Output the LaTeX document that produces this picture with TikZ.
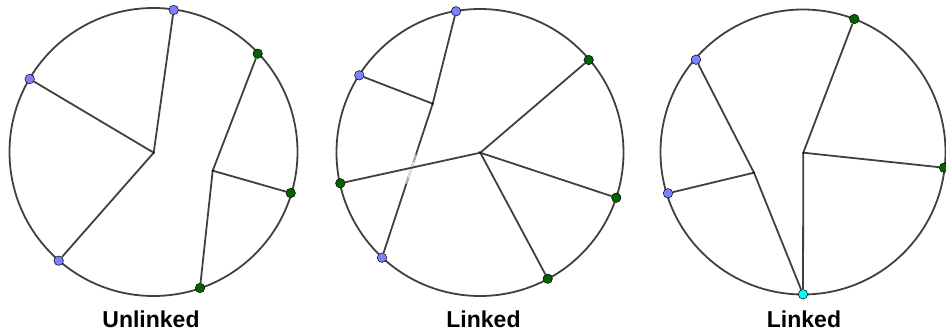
\documentclass[tikz,border=0pt]{standalone}
\usepackage{fontspec}
\newfontfamily\labelfont{Liberation Sans}
\usetikzlibrary{calc}
\definecolor{ptblue}{HTML}{8080FF}
\definecolor{ptgreen}{HTML}{006400}
\definecolor{ptcyan}{HTML}{00FFFF}
\definecolor{edge}{HTML}{404040}

\begin{document}
\begin{tikzpicture}[x=1pt, y=-1pt, line width=1.8pt,
  bdot/.style={circle, draw=black, line width=0.5pt, fill=ptblue, inner sep=0pt, minimum size=9.5pt},
  gdot/.style={bdot, fill=ptgreen},
  cdot/.style={bdot, fill=ptcyan},
  caption/.style={anchor=base, font=\labelfont\bfseries\fontsize{23}{27}\selectfont}]
  \useasboundingbox (0,0) rectangle (946,334);
  % 三个圆
  \draw[edge] (153.5,152) circle (144);
  \draw[edge] (480,152.5) circle (143.5);
  \draw[edge] (803,152) circle (142.5);

  % 第一个圆：Unlinked
  \coordinate (J1) at (153.7,152.7);
  \coordinate (K1) at (212.7,170.7);
  \node[bdot] (A1) at (173.7,10) {};
  \node[bdot] (B1) at (29.7,79) {};
  \node[bdot] (C1) at (58.7,260.7) {};
  \node[gdot] (D1) at (257.7,53.7) {};
  \node[gdot] (E1) at (290.7,193) {};
  \node[gdot] (F1) at (200,288) {};
  \draw[edge] (A1) -- (J1) -- (B1);
  \draw[edge] (J1) -- (C1);
  \draw[edge] (D1) -- (K1) -- (E1);
  \draw[edge] (K1) -- (F1);
  \fill (J1) circle (1pt); \fill (K1) circle (1pt);
  \node[caption] (L1) at (151,327) {Unlinked};

  % 第二个圆：Linked（蓝线在交叉处从下方穿过）
  \coordinate (J2) at (432.7,103.7);
  \coordinate (K2) at (480.3,152.7);
  \node[bdot] (A2) at (456,11.3) {};
  \node[bdot] (B2) at (359.3,75.3) {};
  \node[bdot] (C2) at (382,257.7) {};
  \node[gdot] (D2) at (588.7,60) {};
  \node[gdot] (E2) at (616.3,197.7) {};
  \node[gdot] (F2) at (547.7,278.7) {};
  \node[gdot] (G2) at (340.3,183.3) {};
  \draw[edge] (A2) -- (J2) -- (B2);
  \draw[edge] (J2) -- (C2);
  \draw[gray!60] ($(J2)!0.33!(C2)$) -- ($(J2)!0.52!(C2)$);
  \draw[gray!20] ($(J2)!0.38!(C2)$) -- ($(J2)!0.48!(C2)$);
  \draw[edge] (G2) -- (K2) -- (D2);
  \draw[edge] (E2) -- (K2) -- (F2);
  \fill (J2) circle (1pt); \fill (K2) circle (1pt);
  \node[caption] (L2) at (483.5,327) {Linked};

  % 第三个圆：Linked（公共端点）
  \coordinate (J3) at (754,172.7);
  \coordinate (K3) at (803.3,152.7);
  \node[bdot] (A3) at (696,59.7) {};
  \node[bdot] (B3) at (668,193.3) {};
  \node[cdot] (C3) at (803,294.3) {};
  \node[gdot] (D3) at (854.3,19) {};
  \node[gdot] (E3) at (944,167.7) {};
  \draw[edge] (A3) -- (J3) -- (C3);
  \draw[edge] (J3) -- (B3);
  \draw[edge] (D3) -- (K3) -- (E3);
  \draw[edge] (K3) -- (C3);
  \fill (J3) circle (1pt); \fill (K3) circle (1pt);
  \node[caption] (L3) at (804,327) {Linked};
\end{tikzpicture}
\end{document}
